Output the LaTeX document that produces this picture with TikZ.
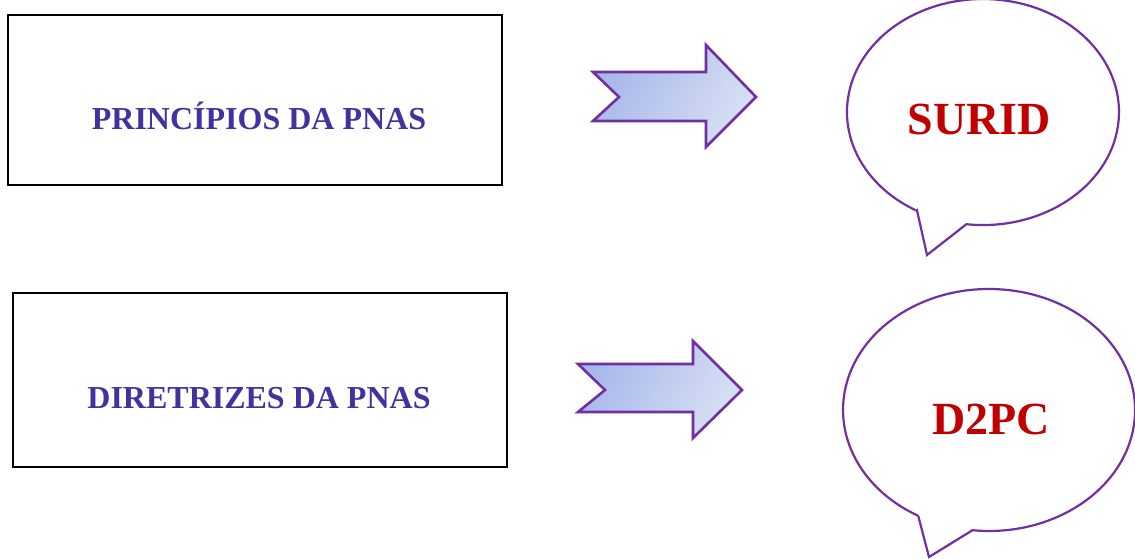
\documentclass[tikz,border=0pt]{standalone}
\usepackage{fontspec}
\setmainfont{Liberation Serif}
\definecolor{txtblue}{HTML}{3F33A0}
\definecolor{txtred}{HTML}{C00000}
\definecolor{lilac}{HTML}{7030A0}
\definecolor{arrA}{HTML}{A6B7EA}
\definecolor{arrB}{HTML}{D9E0F5}
\tikzset{
  box/.style={draw=black, line width=2pt, inner sep=0pt},
  boxtext/.style={text=txtblue, font=\bfseries\fontsize{32}{36}\selectfont, anchor=base, inner sep=0pt},
  bubtext/.style={text=txtred, font=\bfseries\fontsize{46}{50}\selectfont, anchor=base, inner sep=0pt},
  bubble/.style={draw=lilac, line width=2.2pt, fill=white, line join=miter},
  fatarrow/.style={draw=lilac, line width=2.6pt, left color=arrA, right color=arrB, shading angle=60, line join=miter}
}
\begin{document}
\begin{tikzpicture}[x=1pt,y=1pt]
\useasboundingbox (0,0) rectangle (1135,-559);
% boxes
\node[box, minimum width=494pt, minimum height=170pt] (b1) at (255,-100) {};
\node[box, minimum width=494pt, minimum height=174pt] (b2) at (259.5,-380) {};
\node[boxtext] (t1) at (259,-130) {PRINCÍPIOS DA PNAS};
\node[boxtext] (t2) at (259,-408) {DIRETRIZES DA PNAS};
% arrows
\path[fatarrow] (593,-72) -- (706,-72) -- (706,-45) -- (756,-97) -- (706,-147) -- (706,-121) -- (593,-121) -- (619,-97) -- cycle;
\path[fatarrow] (578,-364) -- (693,-364) -- (693,-341) -- (742,-390) -- (693,-438) -- (693,-412) -- (578,-412) -- (605,-390) -- cycle;
% bubbles
\draw[bubble] (917.1,-210.8) -- (927,-255) -- (966.4,-224.2)
  arc[start angle=-97, end angle=241, x radius=136, y radius=113] -- cycle;
\draw[bubble] (918.2,-515.8) -- (929,-557) -- (972.5,-530.2)
  arc[start angle=-96.5, end angle=241, x radius=146, y radius=121] -- cycle;
\node[bubtext] (s1) at (979,-135) {SURID};
\node[bubtext] (s2) at (991,-434) {D2PC};
\end{tikzpicture}
\end{document}
